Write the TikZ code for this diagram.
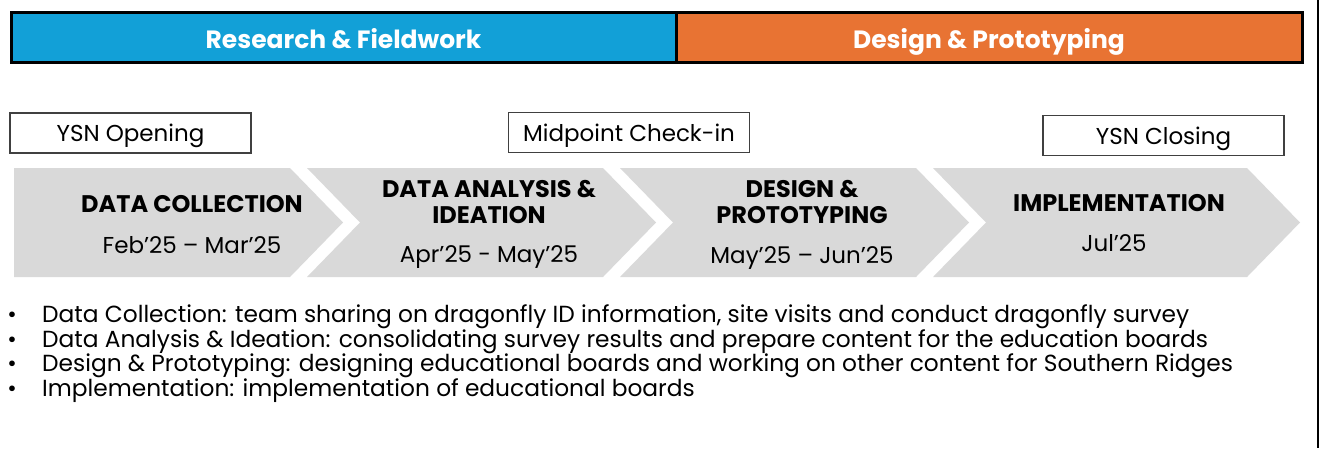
\documentclass[tikz,border=0pt]{standalone}
\usepackage{fontspec}
\setmainfont{Poppins}
\definecolor{rfblue}{HTML}{12A0D7}
\definecolor{dporange}{HTML}{E87333}
\definecolor{chev}{HTML}{D9D9D9}
\begin{document}
\begin{tikzpicture}[x=1pt,y=-1pt,
  hdr/.style={draw=black, line width=3pt, minimum height=50pt, inner sep=0pt, text height=24pt, text depth=3pt, text=white, font=\bfseries\fontsize{25}{28}\selectfont},
  mile/.style={draw=black!75, line width=1.2pt, minimum width=241pt, minimum height=40pt, inner sep=0pt, text height=20pt, text depth=3pt, font=\fontsize{23}{26}\selectfont},
  phase/.style={font=\bfseries\fontsize{24}{26}\selectfont, align=center, inner sep=0pt},
  datetxt/.style={font=\fontsize{23}{26}\selectfont, inner sep=0pt, anchor=base},
  chevshape/.style={fill=chev},
  body/.style={font=\fontsize{23.3}{25}\selectfont, inner sep=0pt, anchor=west},
  bullet/.style={font=\fontsize{23}{25}\selectfont, inner sep=0pt}]
\useasboundingbox (0,0) rectangle (1324,448);
\fill[white] (0,0) rectangle (1324,448);
% header
\node[hdr, fill=rfblue, minimum width=665pt] (rf) at (343.5,37.5) {Research \& Fieldwork};
\node[hdr, fill=dporange, minimum width=626pt] (dp) at (989,37.5) {Design \& Prototyping};
% milestones
\node[mile] (open) at (130.5,133) {YSN Opening};
\node[mile] (mid) at (629,132.5) {Midpoint Check-in};
\node[mile] (close) at (1163.5,135.5) {YSN Closing};
% chevrons
\fill[chevshape] (14,168) -- (290,168) -- (343,222.5) -- (290,277) -- (14,277) -- cycle;
\fill[chevshape] (307,168) -- (603,168) -- (656,222.5) -- (603,277) -- (307,277) -- (360,222.5) -- cycle;
\fill[chevshape] (620,168) -- (916,168) -- (969,222.5) -- (916,277) -- (620,277) -- (673,222.5) -- cycle;
\fill[chevshape] (933,168) -- (1247,168) -- (1300,222.5) -- (1247,277) -- (933,277) -- (986,222.5) -- cycle;
% phase texts
\node[phase] (p1) at (192,204) {DATA COLLECTION};
\node[datetxt] (d1) at (192,253) {Feb’25 – Mar’25};
\node[phase] (p2) at (489,202) {DATA ANALYSIS \&\\IDEATION};
\node[datetxt] (d2) at (489,262) {Apr’25 - May'25};
\node[phase] (p3) at (802,202) {DESIGN \&\\PROTOTYPING};
\node[datetxt] (d3) at (802,263) {May'25 – Jun'25};
\node[phase] (p4) at (1119,203) {IMPLEMENTATION};
\node[datetxt] (d4) at (1114,251) {Jul'25};
% bullets
\foreach \i/\y in {1/317,2/342,3/366,4/391}{\node[bullet] (dot\i) at (12,\y) {•};}
\node[body] (b1) at (42,317) {Data Collection: team sharing on dragonfly ID information, site visits and conduct dragonfly survey};
\node[body] (b2) at (42,342) {Data Analysis \& Ideation: consolidating survey results and prepare content for the education boards};
\node[body] (b3) at (42,366) {Design \& Prototyping: designing educational boards and working on other content for Southern Ridges};
\node[body] (b4) at (42,391) {Implementation: implementation of educational boards};
% right edge line
\draw[line width=2pt] (1318,0) -- (1318,448);
\end{tikzpicture}
\end{document}
